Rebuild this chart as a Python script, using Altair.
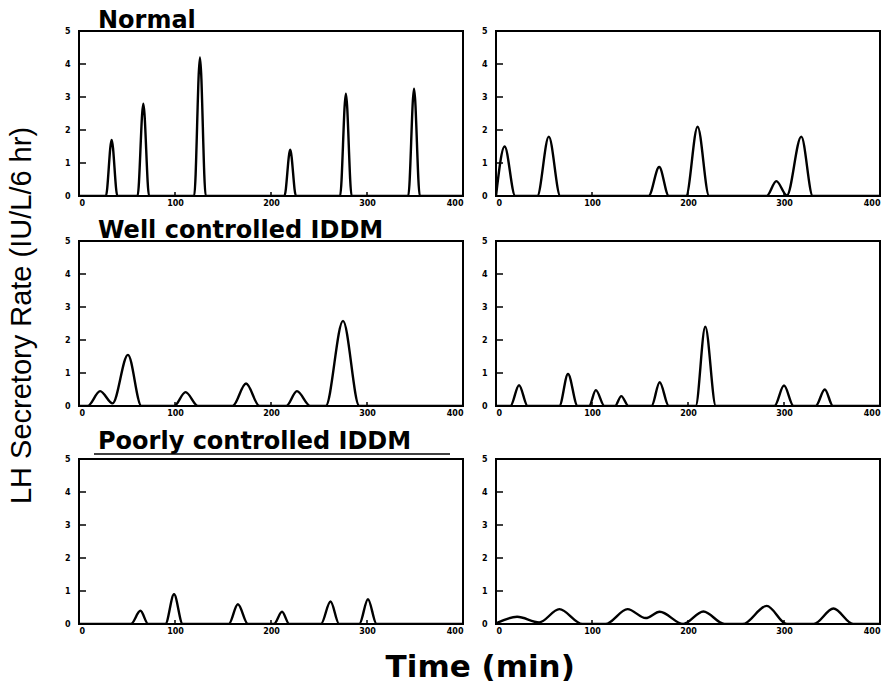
import altair as alt
import pandas as pd

# ---- axis ticks ----
X_TICKS = [0, 100, 200, 300, 400]
Y_TICKS = [0, 1, 2, 3, 4, 5]

# ---- panel titles ----
ROW_TITLES = ["Normal", "Well controlled IDDM", "Poorly controlled IDDM"]
Y_TITLE = "LH Secretory Rate (IU/L/6 hr)"
X_TITLE = "Time (min)"

# ---- series (time in min, LH secretory rate) ----
NORMAL_A_T = [0, 28, 34, 40, 61, 67, 73, 120, 126, 132, 214, 220, 226, 272, 278, 284, 343, 349, 355, 400]
NORMAL_A_R = [0, 0, 1.7, 0, 0, 2.8, 0, 0, 4.2, 0, 0, 1.4, 0, 0, 3.1, 0, 0, 3.25, 0, 0]

NORMAL_B_T = [0, 9, 20, 43, 55, 67, 159, 170, 180, 198, 210, 222, 282, 292, 303, 318, 330, 400]
NORMAL_B_R = [0, 1.5, 0, 0, 1.8, 0, 0, 0.88, 0, 0, 2.1, 0, 0, 0.45, 0.02, 1.8, 0, 0]

WELL_A_T = [0, 9, 22, 35, 51, 65, 99, 111, 124, 160, 174, 188, 216, 227, 241, 257, 275, 292, 400]
WELL_A_R = [0, 0, 0.45, 0.08, 1.55, 0, 0, 0.42, 0, 0, 0.68, 0, 0, 0.45, 0, 0, 2.58, 0, 0]

WELL_B_T = [0, 15, 24, 33, 66, 75, 85, 97, 104, 113, 124, 130.5, 138, 162, 170.5, 180,
            208, 218, 229, 290, 300, 310, 333, 342.5, 351, 400]
WELL_B_R = [0, 0, 0.63, 0, 0, 0.97, 0, 0, 0.48, 0, 0, 0.3, 0, 0, 0.72, 0,
            0, 2.4, 0, 0, 0.62, 0, 0, 0.5, 0, 0]

POOR_A_T = [0, 54, 64, 72, 90, 99, 108, 156, 165.5, 176, 203, 211.5, 219, 252, 262, 271, 292, 301, 310, 400]
POOR_A_R = [0, 0, 0.4, 0, 0, 0.9, 0, 0, 0.6, 0, 0, 0.37, 0, 0, 0.68, 0, 0, 0.75, 0, 0]

POOR_B_T = [0, 22, 45, 66, 90, 114, 137, 156, 170.5, 195, 216, 238, 257, 282, 303, 331, 351.5, 372, 400]
POOR_B_R = [0.02, 0.22, 0.05, 0.45, 0, 0, 0.45, 0.18, 0.37, 0, 0.38, 0, 0, 0.55, 0, 0, 0.47, 0, 0]

W, H = 384, 165
FONT_TITLE = "DejaVu Sans"


def panel(t, r, title=None, underline=False):
    df = pd.DataFrame({"t": t, "r": r})
    xs = alt.Scale(domain=[0, 400], nice=False, zero=False)
    ys = alt.Scale(domain=[0, 5], nice=False)
    xax = alt.Axis(values=X_TICKS, title=None, labelOverlap=False)
    yax = alt.Axis(values=Y_TICKS, title=None, labelOverlap=False)
    line = alt.Chart(df).mark_line(
        color="black", strokeWidth=2.4, interpolate="monotone", clip=True
    ).encode(
        x=alt.X("t:Q", scale=xs, axis=xax),
        y=alt.Y("r:Q", scale=ys, axis=yax),
    )
    yt = alt.Chart(pd.DataFrame({"v": Y_TICKS[1:-1]})).mark_rule(
        color="black", strokeWidth=1.5
    ).encode(y=alt.Y("v:Q", scale=ys, axis=yax), x=alt.value(0), x2=alt.value(7))
    xt = alt.Chart(pd.DataFrame({"v": X_TICKS[1:-1]})).mark_rule(
        color="black", strokeWidth=1.5
    ).encode(x=alt.X("v:Q", scale=xs, axis=xax), y=alt.value(H), y2=alt.value(H - 4))
    layers = [line, yt, xt]
    if title is not None:
        ty = -10 if underline else -3
        tt = alt.Chart(pd.DataFrame({"label": [title]})).mark_text(
            align="left", baseline="alphabetic", font=FONT_TITLE, fontSize=24,
            fontWeight="bold", color="black", clip=False
        ).encode(x=alt.value(19), y=alt.value(ty), text="label:N")
        layers.append(tt)
    if underline:
        ul = alt.Chart(pd.DataFrame({"a": [0]})).mark_rule(
            color="black", strokeWidth=1.5
        ).encode(x=alt.value(15), x2=alt.value(371), y=alt.value(-5))
        layers.append(ul)
    return alt.layer(*layers).properties(width=W, height=H)


row1 = alt.hconcat(panel(NORMAL_A_T, NORMAL_A_R, ROW_TITLES[0]),
                   panel(NORMAL_B_T, NORMAL_B_R), spacing=16)
row2 = alt.hconcat(panel(WELL_A_T, WELL_A_R, ROW_TITLES[1]),
                   panel(WELL_B_T, WELL_B_R), spacing=16)
row3 = alt.hconcat(panel(POOR_A_T, POOR_A_R, ROW_TITLES[2], underline=True),
                   panel(POOR_B_T, POOR_B_R), spacing=16).properties(
    title=alt.TitleParams(text=X_TITLE, orient="bottom", anchor="middle",
                          font=FONT_TITLE, fontSize=31, fontWeight="bold",
                          color="black", offset=17, dx=8)
)

chart = alt.vconcat(
    alt.vconcat(row1, row2, spacing=10), row3, spacing=11
).properties(
    title=alt.TitleParams(text=Y_TITLE, orient="left", anchor="middle",
                          font="Liberation Sans", fontSize=29, fontWeight="normal",
                          color="black", offset=26, dx=30),
    padding=0,
    background="white",
).configure_axis(
    labelFont="DejaVu Sans", labelFontSize=8, labelFontWeight="bold",
    labelColor="black", ticks=False, domain=False, grid=False, labelOverlap=False,
).configure_axisX(labelPadding=3).configure_axisY(labelPadding=9).configure_view(
    stroke="black", strokeWidth=2
)

chart.save("out.html", embed_options={"renderer": "svg", "actions": False})
